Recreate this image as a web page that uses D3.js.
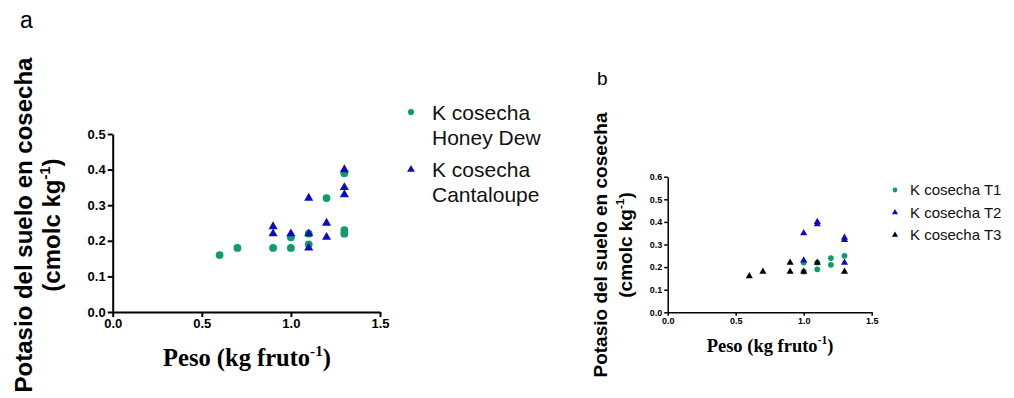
<!DOCTYPE html>
<html><head><meta charset="utf-8">
<script src="https://cdn.jsdelivr.net/npm/d3@7"></script>
<style>
html,body{margin:0;padding:0;background:#fff;}
svg{display:block;}
</style></head>
<body>
<svg id="c" width="1014" height="398"></svg>
<script>
// ---- Data: panel a ----
const honeyDewX = [0.6, 0.7, 0.9, 1.0, 1.0, 1.1, 1.1, 1.2, 1.3, 1.3, 1.3];
const honeyDewY = [0.16, 0.18, 0.18, 0.18, 0.21, 0.22, 0.19, 0.32, 0.39, 0.23, 0.22];
const cantaloupeX = [0.9, 0.9, 1.0, 1.1, 1.1, 1.1, 1.2, 1.2, 1.3, 1.3, 1.3];
const cantaloupeY = [0.24, 0.22, 0.22, 0.32, 0.22, 0.18, 0.25, 0.21, 0.40, 0.35, 0.33];
const xTicksA = [0.0, 0.5, 1.0, 1.5];
const yTicksA = [0.0, 0.1, 0.2, 0.3, 0.4, 0.5];
const legendA = [["K cosecha", "Honey Dew"], ["K cosecha", "Cantaloupe"]];

// ---- Data: panel b ----
const t1X = [1.0, 1.0, 1.1, 1.1, 1.2, 1.2, 1.3];
const t1Y = [0.22, 0.18, 0.22, 0.19, 0.24, 0.21, 0.25];
const t2X = [1.0, 1.0, 1.1, 1.1, 1.3, 1.3, 1.3];
const t2Y = [0.35, 0.23, 0.40, 0.39, 0.33, 0.32, 0.22];
const t3X = [0.6, 0.7, 0.9, 0.9, 1.0, 1.1, 1.3];
const t3Y = [0.16, 0.18, 0.22, 0.18, 0.18, 0.22, 0.18];
const xTicksB = [0.0, 0.5, 1.0, 1.5];
const yTicksB = [0.0, 0.1, 0.2, 0.3, 0.4, 0.5, 0.6];
const legendB = ["K cosecha T1", "K cosecha T2", "K cosecha T3"];

const yTitle = "Potasio del suelo en cosecha";
const GREEN = "#109b6b", BLUE = "#0b0bc2", BLACK = "#000";
const SANS = "'Liberation Sans', Arial, sans-serif";
const SERIF = "'Liberation Serif', 'Times New Roman', serif";

const svg = d3.select("#c");
const zip = (xs, ys) => xs.map((x, i) => ({x, y: ys[i]}));

function panel(o) {
  const x = d3.scaleLinear().domain([0, 1.5]).range([o.x0, o.x1]);
  const y = d3.scaleLinear().domain([0, o.ymax]).range([o.y0, o.y1]);
  const gx = svg.append("g").attr("transform", `translate(0,${o.y0})`)
    .call(d3.axisBottom(x).tickValues(o.xt).tickFormat(d3.format(".1f")).tickSize(o.tick).tickPadding(o.pad).tickSizeOuter(0));
  const gy = svg.append("g").attr("transform", `translate(${o.x0},0)`)
    .call(d3.axisLeft(y).tickValues(o.yt).tickFormat(d3.format(".1f")).tickSize(o.tick).tickPadding(o.pad).tickSizeOuter(0));
  [gx, gy].forEach(g => {
    g.select(".domain").attr("stroke", "#000").attr("stroke-width", o.sw);
    g.selectAll(".tick line").attr("stroke", "#000").attr("stroke-width", o.sw);
    g.selectAll("text").attr("font-family", SANS).attr("font-weight", "bold")
      .attr("font-size", o.fs).attr("fill", "#000");
  });
  o.series.forEach(s => {
    svg.append("g").selectAll("path").data(zip(s.xs, s.ys)).join("path")
      .attr("transform", d => `translate(${x(d.x)},${y(d.y)})`)
      .attr("d", d3.symbol().type(s.type).size(s.size))
      .attr("fill", s.color);
  });
  return {x, y};
}

// ---- Panel a ----
panel({x0: 112.7, x1: 380, y0: 312, y1: 134, ymax: 0.5, xt: xTicksA, yt: yTicksA,
  tick: 5, pad: 2, sw: 2, fs: 13,
  series: [
    {xs: honeyDewX, ys: honeyDewY, type: d3.symbolCircle, size: 48, color: GREEN},
    {xs: cantaloupeX, ys: cantaloupeY, type: d3.symbolTriangle, size: 36, color: BLUE}
  ]});

// ---- Panel b ----
panel({x0: 667.7, x1: 871.7, y0: 312.3, y1: 176.7, ymax: 0.6, xt: xTicksB, yt: yTicksB,
  tick: 3.5, pad: 2, sw: 1.5, fs: 9,
  series: [
    {xs: t1X, ys: t1Y, type: d3.symbolCircle, size: 26, color: GREEN},
    {xs: t2X, ys: t2Y, type: d3.symbolTriangle, size: 22, color: BLUE},
    {xs: t3X, ys: t3Y, type: d3.symbolTriangle, size: 22, color: BLACK}
  ]});

// ---- Panel letters ----
svg.append("text").attr("x", 20).attr("y", 28).attr("font-family", SANS).attr("font-size", 23).text("a");
svg.append("text").attr("x", 597).attr("y", 85).attr("font-family", SANS).attr("font-size", 19).text("b");

// ---- Y titles ----
function yTitleBlock(cx1, cx2, cy, fs) {
  svg.append("text").attr("transform", `translate(${cx1},${cy}) rotate(-90)`)
    .attr("text-anchor", "middle").attr("font-family", SANS).attr("font-weight", "bold")
    .attr("font-size", fs).text(yTitle);
  const t = svg.append("text").attr("transform", `translate(${cx2},${cy}) rotate(-90)`)
    .attr("text-anchor", "middle").attr("font-family", SANS).attr("font-weight", "bold")
    .attr("font-size", fs);
  t.append("tspan").text("(cmolc kg");
  t.append("tspan").attr("font-size", fs * 0.62).attr("dy", -fs * 0.42).text("-1");
  t.append("tspan").attr("dy", fs * 0.42).text(")");
}
yTitleBlock(32, 60, 225, 24);
yTitleBlock(607, 632, 245, 19);

// ---- X titles ----
function xTitle(cx, by, fs) {
  const t = svg.append("text").attr("x", cx).attr("y", by).attr("text-anchor", "middle")
    .attr("font-family", SERIF).attr("font-weight", "bold").attr("font-size", fs);
  t.append("tspan").text("Peso (kg fruto");
  t.append("tspan").attr("font-size", fs * 0.62).attr("dy", -fs * 0.42).text("-1");
  t.append("tspan").attr("dy", fs * 0.42).text(")");
}
xTitle(247, 366, 24.5);
xTitle(770, 352, 18.5);

// ---- Legend a ----
const legA = svg.append("g");
legendA.forEach((lines, i) => {
  const cy = i === 0 ? 112 : 169.5;
  legA.append("path").attr("transform", `translate(411,${cy})`)
    .attr("d", d3.symbol().type(i === 0 ? d3.symbolCircle : d3.symbolTriangle).size(i === 0 ? 30 : 26))
    .attr("fill", i === 0 ? GREEN : BLUE);
  lines.forEach((s, j) => {
    legA.append("text").attr("x", 432).attr("y", cy + 7.5 + j * 25)
      .attr("font-family", SANS).attr("font-size", 21).attr("fill", "#111").text(s);
  });
});

// ---- Legend b ----
const legB = svg.append("g");
legendB.forEach((s, i) => {
  const cy = 190 + i * 22.5;
  legB.append("path").attr("transform", `translate(895,${cy})`)
    .attr("d", d3.symbol().type(i === 0 ? d3.symbolCircle : d3.symbolTriangle).size(i === 0 ? 18 : 16))
    .attr("fill", [GREEN, BLUE, BLACK][i]);
  legB.append("text").attr("x", 910).attr("y", cy + 5.3)
    .attr("font-family", SANS).attr("font-size", 15).attr("fill", "#111").text(s);
});
</script>
</body></html>
